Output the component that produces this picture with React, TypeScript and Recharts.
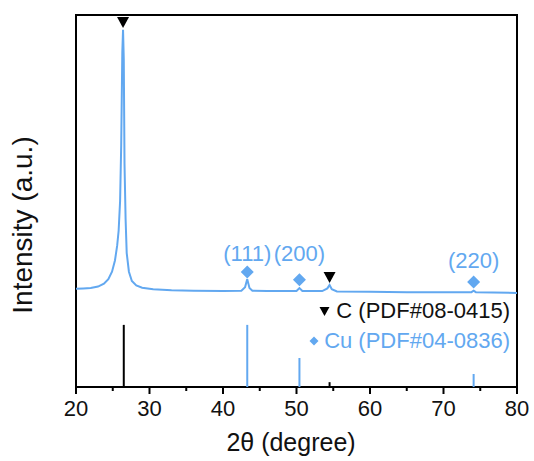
import {
  ComposedChart,
  Line,
  Scatter,
  XAxis,
  YAxis,
  ReferenceLine,
  ReferenceArea,
} from 'recharts'

// measured XRD pattern (2θ in degrees, intensity in arbitrary units)
const twoTheta = [
  20, 21, 22, 23, 23.8, 24.4, 24.9, 25.3, 25.6, 25.8, 26.0, 26.15, 26.3, 26.4, 26.5,
  26.6, 26.75, 26.9, 27.2, 27.6, 28.2, 29.0, 30.5, 33, 36, 40, 42.5, 43.0, 43.3, 43.6,
  44.0, 46, 50.0, 50.4, 50.8, 53.5, 54.2, 54.5, 54.8, 55.5, 60, 65, 70, 73.8, 74.1, 74.4, 80,
]
const intensity = [
  26.4, 26.5, 26.6, 27.0, 27.8, 29.0, 31.0, 34.0, 38.0, 42.0, 50.0, 65, 90, 96, 88,
  60, 45, 36, 31, 28.5, 27.3, 26.7, 26.3, 26.0, 25.9, 25.8, 25.9, 26.8, 29.0, 26.6,
  25.9, 25.8, 25.8, 26.6, 25.8, 25.8, 26.5, 27.4, 26.3, 25.7, 25.6, 25.5, 25.5, 25.5, 25.9, 25.5, 25.3,
]

// standard card sticks
const cStickX = [26.5, 54.5]
const cStickH = [16.7, 1.3]
const cuStickX = [43.3, 50.4, 74.1]
const cuStickH = [16.7, 7.8, 3.5]

// peak markers
const cMarkX = [26.4, 54.5]
const cMarkY = [98.1, 29.6]
const cuMarkX = [43.3, 50.4, 74.1]
const cuMarkY = [30.9, 28.8, 28.2]
const hklLabels = ['(111)', '(200)', '(220)']
const hklY = [35.8, 35.8, 34.1]

const xTicks = [20, 25, 30, 35, 40, 45, 50, 55, 60, 65, 70, 75, 80]

const BLUE = '#62a8f0'
const FONT = "Arial, 'Liberation Sans', sans-serif"

const pattern = twoTheta.map((x, i) => ({ x, y: intensity[i] }))
const cMarks = cMarkX.map((x, i) => ({ x, y: cMarkY[i] }))
const cuMarks = cuMarkX.map((x, i) => ({ x, y: cuMarkY[i] }))
const hkl = cuMarkX.map((x, i) => ({ x, y: hklY[i], label: hklLabels[i] }))

function DownTriangle(p: any) {
  const { cx, cy } = p
  return <path d={`M${cx - 6},${cy - 5} L${cx + 6},${cy - 5} L${cx},${cy + 6} Z`} fill="#000" />
}

function Diamond(p: any) {
  const { cx, cy } = p
  return <path d={`M${cx},${cy - 6.5} L${cx + 6.5},${cy} L${cx},${cy + 6.5} L${cx - 6.5},${cy} Z`} fill={BLUE} />
}

function HklText(p: any) {
  return (
    <text x={p.cx} y={p.cy} textAnchor="middle" dominantBaseline="central" fontSize={22} fill={BLUE} fontFamily={FONT}>
      {p.payload.label}
    </text>
  )
}

function Tick({ x, y, payload }: any) {
  const major = payload.value % 10 === 0
  return (
    <g>
      <line x1={x} x2={x} y1={y} y2={y + (major ? 7 : 4)} stroke="#000" strokeWidth={2} />
      {major && (
        <text x={x} y={y + 21} textAnchor="middle" dominantBaseline="central" fontSize={22} fill="#111" fontFamily={FONT}>
          {payload.value}
        </text>
      )}
    </g>
  )
}

export default function App() {
  return (
    <div style={{ position: 'absolute', left: 0, top: 0, width: 534, height: 461, background: '#fff', fontFamily: FONT }}>
      <ComposedChart width={534} height={461} margin={{ top: 15, right: 17, left: 76, bottom: 14 }}>
        <XAxis
          dataKey="x"
          type="number"
          domain={[20, 80]}
          ticks={xTicks}
          axisLine={false}
          tickLine={false}
          tickSize={0}
          tickMargin={0}
          tick={<Tick />}
          height={60}
          interval={0}
        />
        <YAxis type="number" domain={[0, 100]} hide />
        {cStickX.map((x, i) => (
          <ReferenceLine key={'c' + i} segment={[{ x, y: 0 }, { x, y: cStickH[i] }]} stroke="#000" strokeWidth={2} />
        ))}
        {cuStickX.map((x, i) => (
          <ReferenceLine key={'cu' + i} segment={[{ x, y: 0 }, { x, y: cuStickH[i] }]} stroke={BLUE} strokeWidth={2} />
        ))}
        <Line data={pattern} dataKey="y" type="linear" stroke={BLUE} strokeWidth={2} dot={false} isAnimationActive={false} />
        <Scatter data={cMarks} dataKey="y" shape={DownTriangle} isAnimationActive={false} />
        <Scatter data={cuMarks} dataKey="y" shape={Diamond} isAnimationActive={false} />
        <Scatter data={hkl} dataKey="y" shape={HklText} isAnimationActive={false} />
        <ReferenceArea x1={20} x2={80} y1={0} y2={100} fill="none" fillOpacity={0} stroke="#000" strokeWidth={2} />
      </ComposedChart>
      <div
        style={{
          position: 'absolute',
          left: 291,
          top: 442,
          transform: 'translate(-50%, -50%)',
          whiteSpace: 'nowrap',
          fontSize: 25,
          color: '#111',
        }}
      >
        2θ (degree)
      </div>
      <div
        style={{
          position: 'absolute',
          left: 23,
          top: 225,
          transform: 'translate(-50%, -50%) rotate(-90deg)',
          whiteSpace: 'nowrap',
          fontSize: 28,
          color: '#111',
        }}
      >
        Intensity (a.u.)
      </div>
      <div style={{ position: 'absolute', right: 24, top: 311, transform: 'translateY(-50%)', fontSize: 22, color: '#111', whiteSpace: 'nowrap', display: 'flex', alignItems: 'center' }}>
        <svg width={11} height={10} style={{ marginRight: 6 }}>
          <path d="M0.5,1 L10.5,1 L5.5,10 Z" fill="#000" />
        </svg>
        C (PDF#08-0415)
      </div>
      <div style={{ position: 'absolute', right: 24, top: 341, transform: 'translateY(-50%)', fontSize: 22, color: BLUE, whiteSpace: 'nowrap', display: 'flex', alignItems: 'center' }}>
        <svg width={10} height={10} style={{ marginRight: 5 }}>
          <path d="M5,0.5 L9.5,5 L5,9.5 L0.5,5 Z" fill={BLUE} />
        </svg>
        Cu (PDF#04-0836)
      </div>
    </div>
  )
}
